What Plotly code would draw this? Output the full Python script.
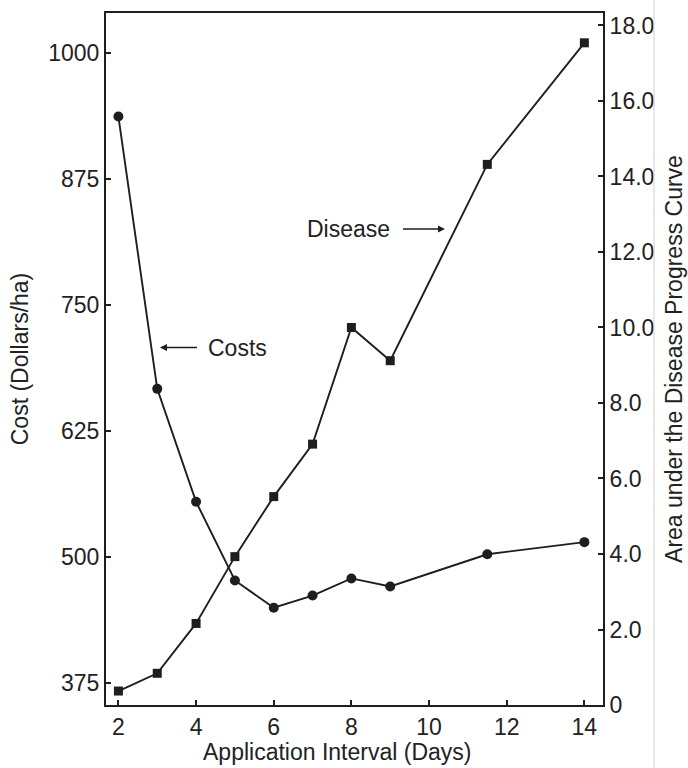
import plotly.graph_objects as go

interval = [2, 3, 4, 5, 6, 7, 8, 9, 11.5, 14]
cost = [937, 667, 555, 477, 450, 462, 479, 471, 503, 515]
disease = [0.37, 0.84, 2.16, 3.93, 5.52, 6.91, 10.0, 9.12, 14.32, 17.54]

x_ticks = [2, 4, 6, 8, 10, 12, 14]
cost_ticks = [375, 500, 625, 750, 875, 1000]
disease_ticks = [0, 2, 4, 6, 8, 10, 12, 14, 16, 18]
disease_labels = ["0", "2.0", "4.0", "6.0", "8.0", "10.0", "12.0", "14.0", "16.0", "18.0"]

INK = "#1e1e1e"
FONT = "Liberation Sans, Arial, sans-serif"
TXT = "#222"

fig = go.Figure()
fig.add_trace(go.Scatter(
    x=interval, y=cost, mode="lines+markers", name="Costs",
    line=dict(color=INK, width=1.9),
    marker=dict(symbol="circle", size=10, color=INK),
))
fig.add_trace(go.Scatter(
    x=interval, y=disease, mode="lines+markers", name="Disease", yaxis="y2",
    line=dict(color=INK, width=1.9),
    marker=dict(symbol="square", size=9, color=INK),
))

axis_common = dict(
    showline=True, linecolor=INK, linewidth=2, ticks="inside", ticklen=5,
    tickcolor=INK, tickwidth=1.5, showgrid=False, zeroline=False, automargin=False,
    tickfont=dict(family=FONT, size=23, color=TXT),
)

fig.update_layout(
    width=688, height=768,
    margin=dict(l=106, r=85, t=13, b=63),
    paper_bgcolor="white", plot_bgcolor="white",
    showlegend=False,
    font=dict(family=FONT, color=TXT),
    xaxis=dict(
        range=[1.68, 14.48], tickvals=x_ticks, mirror=True,
        **axis_common,
    ),
    yaxis=dict(
        range=[353.5, 1039.7], tickvals=cost_ticks,
        title=dict(text="Cost (Dollars/ha)", font=dict(family=FONT, size=23, color=TXT), standoff=13),
        **axis_common,
    ),
    yaxis2=dict(
        range=[0, 18.33], tickvals=disease_ticks, ticktext=disease_labels,
        overlaying="y", side="right",
        title=dict(text="Area under the Disease Progress Curve", font=dict(family=FONT, size=23, color=TXT), standoff=13),
        **axis_common,
    ),
    annotations=[
        dict(x=0.465, y=-0.0679, xref="paper", yref="paper", text="Application Interval (Days)",
             showarrow=False, xanchor="center", yanchor="middle",
             font=dict(family=FONT, size=23, color=TXT)),
        dict(x=3.07, y=708, xref="x", yref="y", text=" ", showarrow=True,
             ax=40, ay=0, arrowhead=2, arrowsize=1, arrowwidth=1.4, arrowcolor=INK),
        dict(x=4.26, y=708, xref="x", yref="y", text="Costs", showarrow=False,
             xanchor="left", yanchor="middle", font=dict(family=FONT, size=23, color=TXT)),
        dict(x=10.41, y=12.61, xref="x", yref="y2", text=" ", showarrow=True,
             ax=-45, ay=0, arrowhead=2, arrowsize=1, arrowwidth=1.4, arrowcolor=INK),
        dict(x=9.05, y=12.61, xref="x", yref="y2", text="Disease", showarrow=False,
             xanchor="right", yanchor="middle", font=dict(family=FONT, size=23, color=TXT)),
    ],
    shapes=[
        dict(type="line", xref="paper", yref="paper", x0=1.1026, x1=1.1026, y0=-0.2, y1=1.1,
             line=dict(color="#d0d0d0", width=1)),
    ],
)

# remove the page's default body margin so the figure fills the 688x768 window exactly
fig.write_html(
    "out.html",
    config={"displayModeBar": False},
    post_script="document.body.style.margin='0';document.documentElement.style.overflow='hidden';",
)
